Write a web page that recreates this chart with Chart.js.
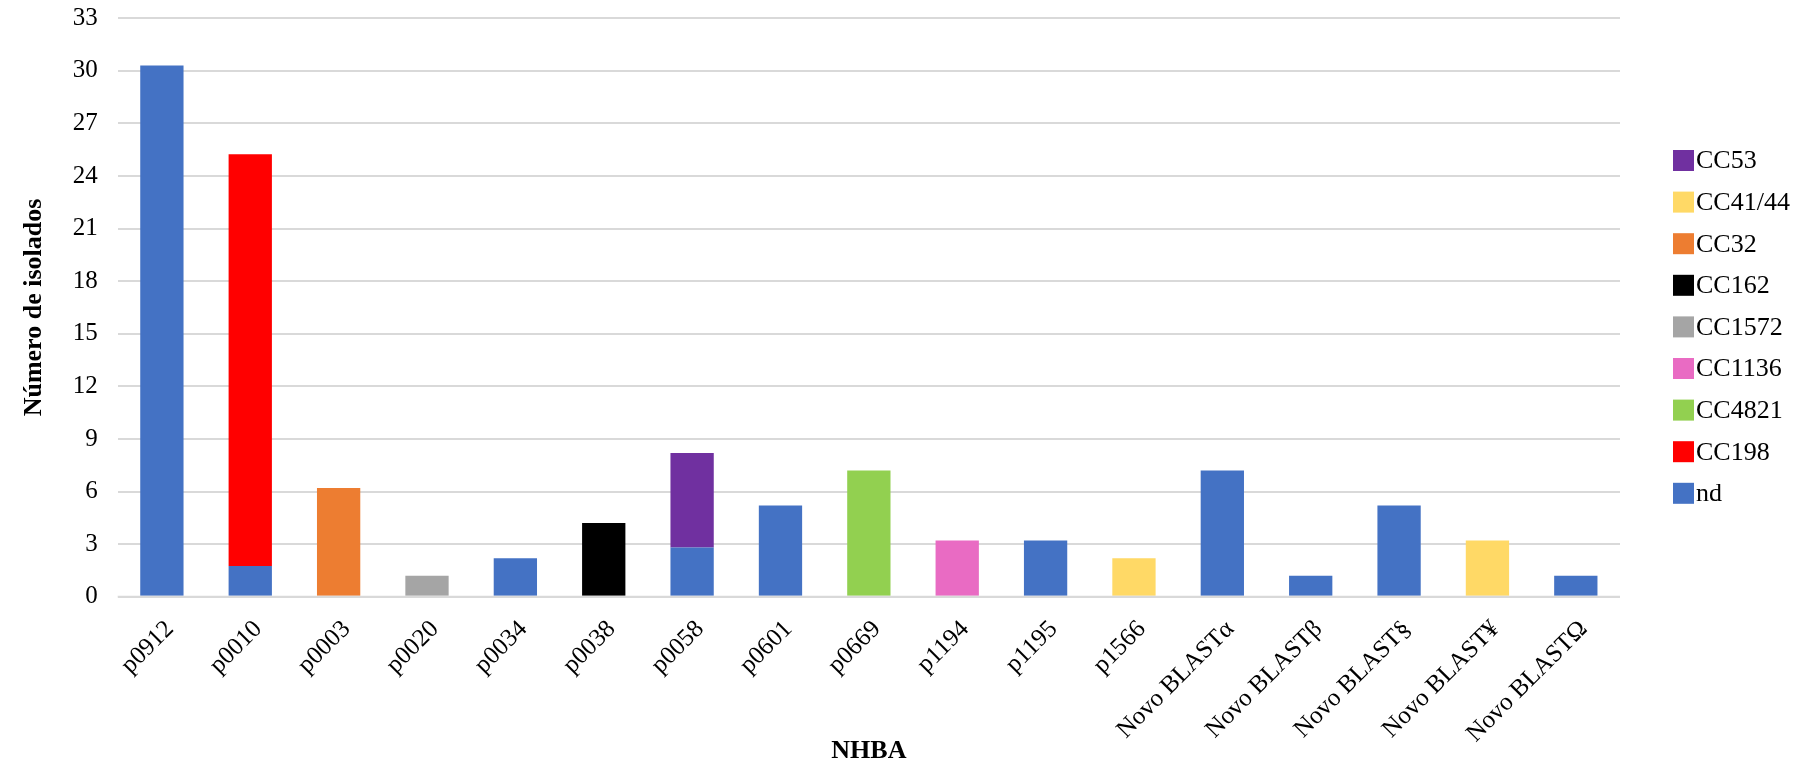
<!DOCTYPE html>
<html>
<head>
<meta charset="utf-8">
<script src="https://cdn.jsdelivr.net/npm/chart.js@4.4.1/dist/chart.umd.min.js"></script>
<style>
  html, body { margin: 0; padding: 0; background: #ffffff; }
  #wrap { width: 1813px; height: 767px; }
</style>
</head>
<body>
<div id="wrap"><canvas id="chart" width="1813" height="767"></canvas></div>
<script>
// NHBA peptide categories (x axis)
const categories = ['p0912', 'p0010', 'p0003', 'p0020', 'p0034', 'p0038', 'p0058', 'p0601', 'p0669',
  'p1194', 'p1195', 'p1566', 'Novo BLASTα', 'Novo BLASTβ', 'Novo BLAST§', 'Novo BLAST¥', 'Novo BLASTΩ'];

// y axis ticks
const yMin = 0;
const yMax = 33;
const yStep = 3;

// clonal complex series, stacked from the bottom up
const nd      = [30.3, 1.75, null, null, 2.2, null, 2.8, 5.2, null, null, 3.2, null, 7.2, 1.2, 5.2, null, 1.2];
const cc198   = [null, 23.5, null, null, null, null, null, null, null, null, null, null, null, null, null, null, null];
const cc4821  = [null, null, null, null, null, null, null, null, 7.2, null, null, null, null, null, null, null, null];
const cc1136  = [null, null, null, null, null, null, null, null, null, 3.2, null, null, null, null, null, null, null];
const cc1572  = [null, null, null, 1.2, null, null, null, null, null, null, null, null, null, null, null, null, null];
const cc162   = [null, null, null, null, null, 4.2, null, null, null, null, null, null, null, null, null, null, null];
const cc32    = [null, null, 6.2, null, null, null, null, null, null, null, null, null, null, null, null, null, null];
const cc41_44 = [null, null, null, null, null, null, null, null, null, null, null, 2.2, null, null, null, 3.2, null];
const cc53    = [null, null, null, null, null, null, 5.4, null, null, null, null, null, null, null, null, null, null];

const seriesNames  = ['nd', 'CC198', 'CC4821', 'CC1136', 'CC1572', 'CC162', 'CC32', 'CC41/44', 'CC53'];
const seriesValues = [nd, cc198, cc4821, cc1136, cc1572, cc162, cc32, cc41_44, cc53];
const seriesColors = ['#4472C4', '#FF0000', '#92D050', '#E96BC3', '#A5A5A5', '#000000', '#ED7D31', '#FFD966', '#7030A0'];

const FONT = '"Liberation Serif", "Times New Roman", serif';
const GRID = '#D9D9D9';

const datasets = seriesNames.map((name, i) => ({
  label: name,
  data: seriesValues[i],
  backgroundColor: seriesColors[i],
  borderWidth: 0,
  categoryPercentage: 1.0,
  barPercentage: 0.49
}));

// Baseline drawn above the bars
const zeroLine = {
  id: 'zeroLine',
  afterDatasetsDraw(chart) {
    const { ctx, chartArea, scales } = chart;
    const y = scales.y.getPixelForValue(0);
    ctx.save();
    ctx.strokeStyle = GRID;
    ctx.lineWidth = 2;
    ctx.beginPath();
    ctx.moveTo(chartArea.left, y);
    ctx.lineTo(chartArea.right, y);
    ctx.stroke();
    ctx.restore();
  }
};

// Legend on the right: top of the stack listed first, boxes tight against labels
const sideLegend = {
  id: 'sideLegend',
  afterDraw(chart) {
    const { ctx } = chart;
    const ds = chart.data.datasets;
    const x0 = 1673, y0 = 150, step = 41.6, box = 21;
    ctx.save();
    ctx.font = '26px ' + FONT;
    ctx.textBaseline = 'middle';
    ctx.textAlign = 'left';
    for (let i = ds.length - 1, k = 0; i >= 0; i--, k++) {
      const y = y0 + k * step;
      ctx.fillStyle = ds[i].backgroundColor;
      ctx.fillRect(x0, y, box, box);
      ctx.fillStyle = '#000000';
      ctx.fillText(ds[i].label, x0 + box + 2, y + box / 2 + 1);
    }
    ctx.restore();
  }
};

new Chart(document.getElementById('chart'), {
  type: 'bar',
  data: { labels: categories, datasets },
  plugins: [zeroLine, sideLegend],
  options: {
    responsive: false,
    animation: false,
    layout: { padding: { top: 18.3, right: 193, bottom: 0, left: 0 } },
    plugins: {
      legend: { display: false },
      tooltip: { enabled: false }
    },
    scales: {
      x: {
        stacked: true,
        grid: { display: false, drawTicks: false },
        border: { display: false },
        ticks: {
          autoSkip: false,
          maxRotation: 45,
          minRotation: 45,
          padding: 18,
          labelOffset: 8,
          color: '#000000',
          font: { family: FONT, size: 25 }
        },
        title: {
          display: true,
          text: 'NHBA',
          color: '#000000',
          font: { family: FONT, size: 26, weight: 'bold' },
          padding: { top: 0, bottom: 0 }
        },
        afterFit(scale) { scale.height = 170.3; }
      },
      y: {
        stacked: true,
        min: yMin,
        max: yMax,
        grid: { color: GRID, lineWidth: 2, drawTicks: false },
        border: { display: false },
        ticks: {
          stepSize: yStep,
          padding: 20,
          color: '#000000',
          font: { family: FONT, size: 25 }
        },
        title: {
          display: true,
          text: 'Número de isolados',
          color: '#000000',
          font: { family: FONT, size: 26, weight: 'bold' },
          padding: { top: 19, bottom: 0 }
        },
        afterFit(scale) {
          scale.width = 117.7;
          scale.paddingTop = 0;
          scale.paddingBottom = 0;
        }
      }
    }
  }
});
</script>
</body>
</html>
